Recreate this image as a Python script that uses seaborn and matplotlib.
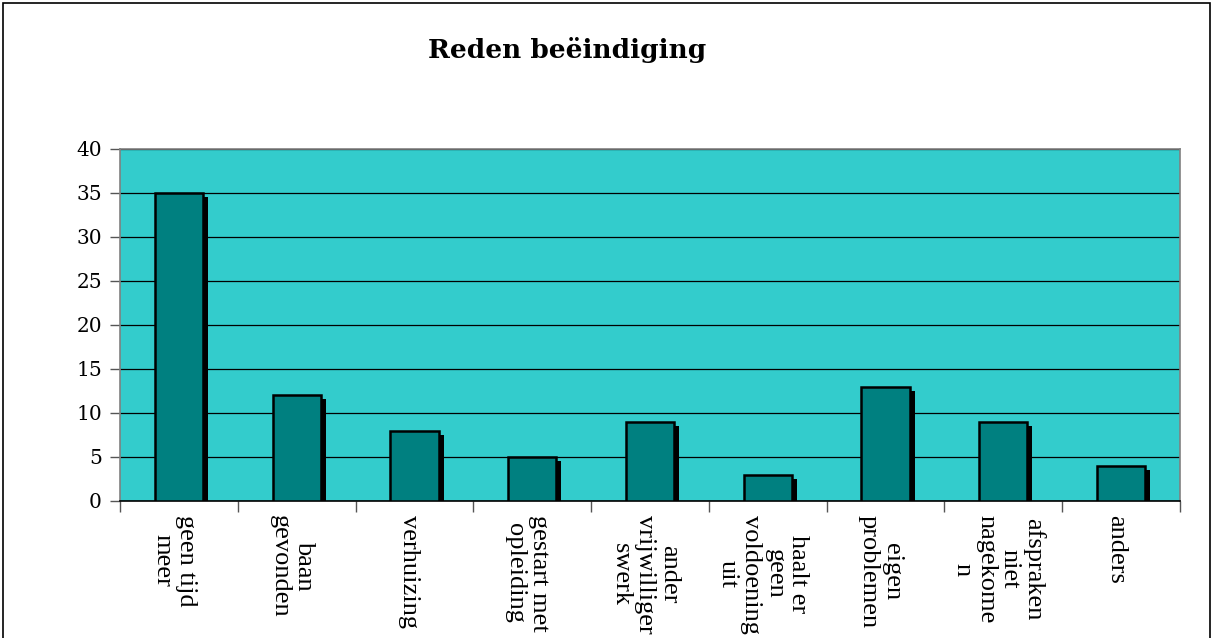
import matplotlib
matplotlib.use("Agg")
import matplotlib.pyplot as plt
import matplotlib.patheffects as pe
from matplotlib.patches import Rectangle
from matplotlib.ticker import FixedLocator
from matplotlib.transforms import ScaledTranslation
import seaborn as sns
import pandas as pd

categories = ["geen tijd\nmeer", "baan\ngevonden", "verhuizing", "gestart met\nopleiding",
              "ander\nvrijwilliger\nswerk", "haalt er\ngeen\nvoldoening\nuit", "eigen\nproblemen",
              "afspraken\nniet\nnagekome\nn", "anders"]
values = [35, 12, 8, 5, 9, 3, 13, 9, 4]
yticks = [0, 5, 10, 15, 20, 25, 30, 35, 40]
title = "Reden beëindiging"

df = pd.DataFrame({"cat": categories, "val": values})

sns.set_style("white")
plt.rcParams['font.family'] = ['Liberation Serif', 'DejaVu Serif']
plt.rcParams['text.color'] = 'black'

fig = plt.figure(figsize=(12.13, 6.38), dpi=100)
ax = fig.add_axes([120/1213, 1-501/638, (1180-120)/1213, (501-149)/638])
ax.set_facecolor("#33CCCC")

sns.barplot(data=df, x="cat", y="val", color="#008080", width=0.41,
            edgecolor="black", linewidth=1.8, saturation=1, ax=ax, zorder=3)
for p in ax.patches:
    p.set_path_effects([pe.SimplePatchShadow(offset=(3.6, -2.9), shadow_rgbFace="black", alpha=1.0),
                        pe.Normal()])

ax.set_xlim(-0.5, len(categories) - 0.5)
ax.set_ylim(0, 40)
ax.set_yticks(yticks)
ax.set_yticklabels([str(v) for v in yticks], fontfamily="DejaVu Serif", fontsize=14.5)
ax.yaxis.grid(True, color="black", linewidth=0.9, zorder=0)
ax.set_axisbelow(True)
ax.tick_params(axis="y", length=7, width=1, color="#555555", pad=6, left=True,
               labelcolor="black")

ax.set_xticks(range(len(categories)))
ax.set_xticklabels(categories, rotation=270, fontsize=19, va="top", ha="center",
                   multialignment="center", linespacing=1.1)
ax.tick_params(axis="x", which="major", length=0, pad=10, labelcolor="black")
ax.xaxis.set_minor_locator(FixedLocator([i - 0.5 for i in range(len(categories) + 1)]))
ax.tick_params(axis="x", which="minor", length=8, width=1, color="#555555", bottom=True)
shift = ScaledTranslation(-5/100, 0, fig.dpi_scale_trans)
for lab in ax.get_xticklabels():
    lab.set_transform(lab.get_transform() + shift)
ax.set_xlabel("")
ax.set_ylabel("")

for s in ax.spines.values():
    s.set_color("#808080")
    s.set_linewidth(1.2)
ax.spines["bottom"].set_color("black")

fig.text(567/1213, 1-50/638, title, ha="center", va="center", fontsize=19,
         fontweight="bold", fontfamily="DejaVu Serif", color="black")

fig.patches.append(Rectangle((3/1213, -0.05), (1210-3)/1213, 1.05 - 3/638,
                             transform=fig.transFigure, fill=False, edgecolor="black",
                             linewidth=1.2))

fig.savefig("out.png", dpi=100)
